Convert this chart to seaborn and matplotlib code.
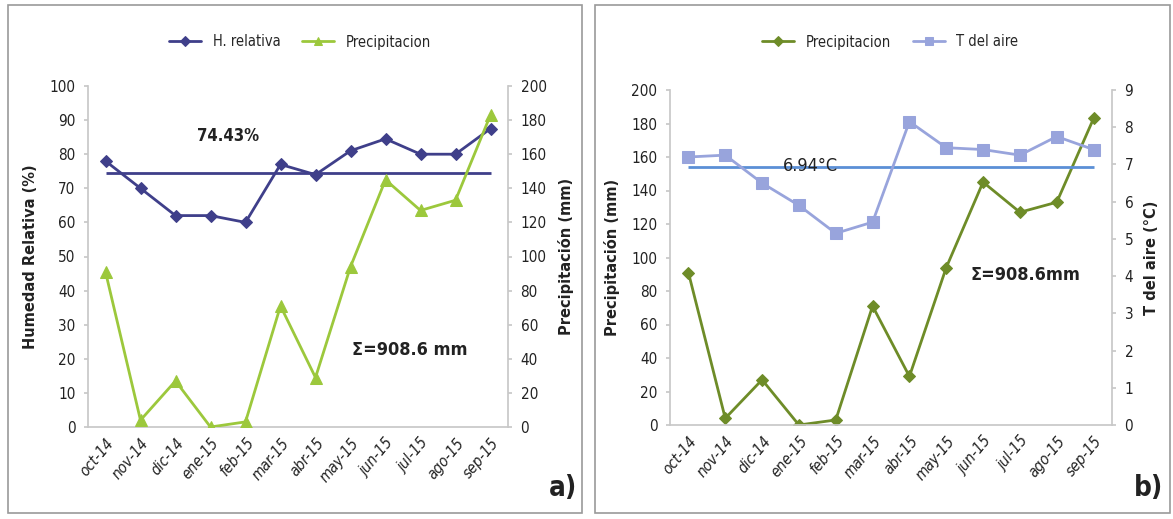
import matplotlib
matplotlib.use("Agg")
import matplotlib.pyplot as plt
import seaborn as sns
import pandas as pd
import numpy as np
from matplotlib.patches import Rectangle

months = ["oct-14", "nov-14", "dic-14", "ene-15", "feb-15", "mar-15",
          "abr-15", "may-15", "jun-15", "jul-15", "ago-15", "sep-15"]
hum_rel = [78, 70, 62, 62, 60, 77, 74, 81, 84.5, 80, 80, 87.5]
precip = [91, 4, 27, 0, 3, 71, 29, 94, 145, 127, 133, 183]
t_aire = [7.2, 7.25, 6.5, 5.9, 5.15, 5.45, 8.15, 7.45, 7.4, 7.25, 7.75, 7.4]
hum_mean = 74.43
t_mean = 6.94

sns.set_theme(style="white")
plt.rcParams['font.family'] = ['DejaVu Sans']
plt.rcParams['font.stretch'] = 'condensed'

df = pd.DataFrame({"pos": np.arange(len(months)), "mes": months,
                   "hum": hum_rel, "pp": precip, "t": t_aire})

fig = plt.figure(figsize=(11.73, 5.19), dpi=100)

# panel borders
for x0, w in [(8 / 1173, 574 / 1173), (595 / 1173, 575 / 1173)]:
    fig.patches.append(Rectangle((x0, 6 / 519), w, 508 / 519, transform=fig.transFigure,
                                 fill=False, edgecolor="#9a9a9a", linewidth=1.2))

navy = "#3f3f8a"
lgreen = "#9cc83c"
olive = "#6e8c28"
lblue = "#98a4dc"
mblue = "#5b8fd6"
axcol = "#c8c8c8"
txt = "#222222"


def ftext(x, y, s, **kw):
    fig.text(x / 1173, 1 - y / 519, s, ha="center", va="center", color=txt, **kw)


def style_axes(ax, ax2):
    for a in (ax, ax2):
        for s in a.spines.values():
            s.set_visible(False)
        a.tick_params(axis="y", length=3, color=axcol, labelsize=11, pad=6, labelcolor=txt)
    ax.spines["left"].set_visible(True)
    ax.spines["left"].set_color(axcol)
    ax.spines["bottom"].set_visible(True)
    ax.spines["bottom"].set_color(axcol)
    ax2.spines["right"].set_visible(True)
    ax2.spines["right"].set_color(axcol)
    ax.set_xlim(-0.5, len(months) - 0.5)
    ax.set_xticks(df["pos"])
    ax.set_xticklabels(months, rotation=50, ha="right", rotation_mode="anchor",
                       fontsize=11, style="italic", color=txt)
    ax.set_xticks(np.arange(-0.5, len(months), 1), minor=True)
    ax.tick_params(axis="x", which="major", length=0, pad=6)
    ax.tick_params(axis="x", which="minor", length=4, color=axcol, direction="out")
    ax.set_xlabel("")


ylab = dict(fontsize=10.5, fontweight="bold", labelpad=8, color=txt, fontstretch="normal")

# ---------- panel a ----------
axA = fig.add_axes([88 / 1173, 1 - 427 / 519, 420 / 1173, 341 / 519])
axA2 = axA.twinx()
sns.lineplot(data=df, x="pos", y="hum", ax=axA, color=navy, marker="D", markersize=6,
             linewidth=2, markeredgecolor=navy, label="H. relativa", legend=False)
axA.hlines(hum_mean, 0, len(months) - 1, color=navy, linewidth=2)
sns.lineplot(data=df, x="pos", y="pp", ax=axA2, color=lgreen, marker="^", markersize=8,
             linewidth=2, markeredgecolor=lgreen, label="Precipitacion", legend=False)
axA.set_ylim(0, 100)
axA.set_yticks(range(0, 101, 10))
axA2.set_ylim(0, 200)
axA2.set_yticks(range(0, 201, 20))
style_axes(axA, axA2)
axA.set_ylabel("Humedad Relativa (%)", **ylab)
axA2.set_ylabel("Precipitación (mm)", **ylab)
ftext(228, 136, "74.43%", fontsize=12, fontweight="bold")
h1, l1 = axA.get_legend_handles_labels()
h2, l2 = axA2.get_legend_handles_labels()
fig.legend(h1 + h2, l1 + l2, loc="center", bbox_to_anchor=(300 / 1173, 1 - 42 / 519),
           ncol=2, frameon=False, fontsize=10.5, handlelength=2.2, columnspacing=1.5, markerscale=0.8)
ftext(410, 350, "Σ=908.6 mm", fontsize=13, fontweight="bold")
ftext(563, 488, "a)", fontsize=20, fontweight="bold")

# ---------- panel b ----------
axB = fig.add_axes([670 / 1173, 1 - 425 / 519, 442 / 1173, 335 / 519])
axB2 = axB.twinx()
sns.lineplot(data=df, x="pos", y="pp", ax=axB, color=olive, marker="D", markersize=6,
             linewidth=2, markeredgecolor=olive, label="Precipitacion", legend=False)
axB2.hlines(t_mean, 0, len(months) - 1, color=mblue, linewidth=2)
sns.lineplot(data=df, x="pos", y="t", ax=axB2, color=lblue, marker="s", markersize=8,
             linewidth=2, markeredgecolor=lblue, label="T del aire", legend=False)
axB.set_ylim(0, 200)
axB.set_yticks(range(0, 201, 20))
axB2.set_ylim(0, 9)
axB2.set_yticks(range(0, 10, 1))
style_axes(axB, axB2)
axB.set_ylabel("Precipitación (mm)", **ylab)
axB2.set_ylabel("T del aire (°C)", **ylab)
ftext(810, 166, "6.94°C", fontsize=13)
h1, l1 = axB.get_legend_handles_labels()
h2, l2 = axB2.get_legend_handles_labels()
fig.legend(h1 + h2, l1 + l2, loc="center", bbox_to_anchor=(890 / 1173, 1 - 42 / 519),
           ncol=2, frameon=False, fontsize=10.5, handlelength=2.2, columnspacing=1.5, markerscale=0.8)
ftext(1025, 275, "Σ=908.6mm", fontsize=13, fontweight="bold")
ftext(1148, 488, "b)", fontsize=20, fontweight="bold")

fig.savefig("out.png", dpi=100)
